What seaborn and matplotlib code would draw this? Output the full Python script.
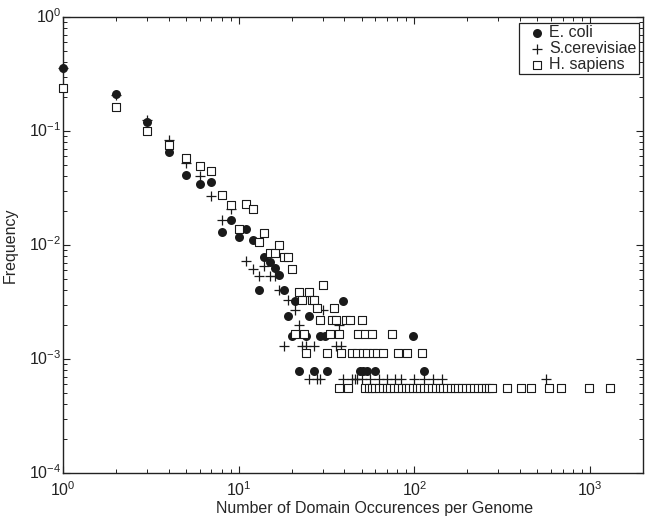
import numpy as np
import pandas as pd
import seaborn as sns
import matplotlib.pyplot as plt
from matplotlib.transforms import ScaledTranslation

sns.set_style("ticks")
plt.rcParams['font.family'] = ['Liberation Sans', 'DejaVu Sans']

# E. coli (filled circles)
ecoli_x = [1, 2, 3, 4, 5, 6, 7, 8, 9, 10, 11, 12, 13, 14, 15, 16, 17, 18, 19, 20,
           21, 22, 24, 25, 27, 29, 31, 32, 39, 49, 51, 54, 60, 98, 113]
ecoli_y = [0.36, 0.211, 0.119, 0.066, 0.041, 0.0346, 0.0355, 0.013, 0.0167, 0.0118,
           0.0137, 0.0111, 0.0040, 0.0079, 0.0071, 0.0063, 0.0055, 0.0040, 0.0024, 0.0016,
           0.0032, 0.00079, 0.0016, 0.0024, 0.00079, 0.0016, 0.0016, 0.00079, 0.0032, 0.00079,
           0.00079, 0.00079, 0.00079, 0.0016, 0.00079]

# S. cerevisiae (plus)
scer_x = [1, 2, 3, 4, 5, 6, 7, 8, 9, 11, 12, 13, 14, 15, 16, 17, 18, 19,
          21, 22, 23, 24, 25, 27, 28, 29, 30, 36, 37, 38, 39, 44, 46, 47, 50,
          56, 63, 70, 78, 84, 100, 114, 127, 144, 560]
scer_y = [0.36, 0.205, 0.125, 0.083, 0.052, 0.0406, 0.027, 0.0167, 0.0205,
          0.0073, 0.0062, 0.0053, 0.0065, 0.0053, 0.0053, 0.0040, 0.0013, 0.0033,
          0.0027, 0.0020, 0.0013, 0.0013, 0.00067, 0.0013, 0.00067, 0.00067, 0.0027,
          0.0013, 0.0020, 0.0013, 0.00067, 0.00067, 0.00067, 0.00067, 0.00067,
          0.00067, 0.00067, 0.00067, 0.00067, 0.00067, 0.00067, 0.00067, 0.00067, 0.00067, 0.00067]

# H. sapiens (open squares)
hsap_x = [1, 2, 3, 4, 5, 6, 7, 8, 9, 10, 11, 12, 13, 14, 15, 16, 17, 18, 19, 20,
          21, 22, 23, 23.5, 24, 25, 26, 27, 28, 29, 30, 32, 33, 34, 35, 36, 37, 38,
          41, 43, 44, 47, 48, 50, 51, 52, 54, 57, 58, 61, 66, 75, 81, 91, 110]
hsap_y = [0.24, 0.164, 0.099, 0.075, 0.058, 0.0497, 0.0446, 0.0277, 0.0226, 0.0139,
          0.0227, 0.0208, 0.0106, 0.0128, 0.0085, 0.0085, 0.0099, 0.0079, 0.0079, 0.0061,
          0.00166, 0.0039, 0.0033, 0.00166, 0.00112, 0.0039, 0.0033, 0.0033, 0.0028, 0.0022,
          0.0045, 0.00112, 0.00166, 0.0022, 0.0028, 0.0022, 0.00166, 0.00112,
          0.0022, 0.0022, 0.00112, 0.00112, 0.00166, 0.0022, 0.00112, 0.00166, 0.00112,
          0.00166, 0.00112, 0.00112, 0.00112, 0.00166, 0.00112, 0.00112, 0.00112]
# H. sapiens domains seen once (lowest frequency level)
hsap_once_x = [37, 42, 52, 55, 57, 60, 63, 66, 70, 73, 77, 81, 85, 89, 93, 98, 103, 108,
               114, 120, 126, 132, 139, 146, 153, 161, 170, 178, 187, 197, 207, 218, 230,
               242, 255, 265, 278, 338, 403, 462, 582, 685, 983, 1293]
hsap_once_y = 0.00056

ecoli = pd.DataFrame({'x': ecoli_x, 'y': ecoli_y})
scer = pd.DataFrame({'x': scer_x, 'y': scer_y})
hsap = pd.concat([pd.DataFrame({'x': hsap_x, 'y': hsap_y}),
                  pd.DataFrame({'x': hsap_once_x, 'y': hsap_once_y})], ignore_index=True)

fig = plt.figure(figsize=(6.46, 5.19), dpi=100)
ax = fig.add_axes([63 / 646, 46 / 519, 580 / 646, 456 / 519])

sns.scatterplot(data=ecoli, x='x', y='y', marker='o', color='#1a1a1a', s=42,
                linewidth=0, label='E. coli', ax=ax, clip_on=False, zorder=3)
sns.scatterplot(data=scer, x='x', y='y', marker='+', color='#1a1a1a', s=42,
                linewidth=0.9, label='S.cerevisiae', ax=ax, clip_on=False, zorder=4)
sns.scatterplot(data=hsap, x='x', y='y', marker='s', color='white', edgecolor='#1a1a1a',
                s=30, linewidth=0.8, label='H. sapiens', ax=ax, clip_on=False, zorder=5)

ax.set_xscale('log')
ax.set_yscale('log')
ax.set_xlim(1, 2000)
ax.set_ylim(1e-4, 1)

for sp in ax.spines.values():
    sp.set_visible(True)
    sp.set_linewidth(1.0)
    sp.set_color('#222222')

ax.tick_params(which='both', direction='in', top=True, right=True, colors='#222222')
ax.tick_params(which='major', length=5, width=0.8, labelsize=11.5)
ax.tick_params(which='minor', length=3, width=0.7)
ax.tick_params(axis='x', which='major', pad=5)
ax.tick_params(axis='y', which='major', pad=1)

# nudge y tick labels up a touch so the "10" sits on the tick
for lab in ax.get_yticklabels():
    lab.set_transform(lab.get_transform() + ScaledTranslation(0, 1.2 / 72, fig.dpi_scale_trans))

ax.set_xlabel('Number of Domain Occurences per Genome', fontsize=11.5)
ax.set_ylabel('Frequency', fontsize=11.5)
ax.xaxis.set_label_coords(0.538, -0.062)
ax.yaxis.set_label_coords(-0.078, 0.5)

leg = ax.legend(loc='upper right', bbox_to_anchor=(0.993, 0.987), borderaxespad=0,
                fontsize=11.5, frameon=True, fancybox=False, framealpha=1,
                handlelength=1.95, handletextpad=-0.2, borderpad=0.15,
                labelspacing=0.05, scatterpoints=1)
leg.get_frame().set_edgecolor('#222222')
leg.get_frame().set_linewidth(0.9)

fig.savefig('out.png', dpi=100)
